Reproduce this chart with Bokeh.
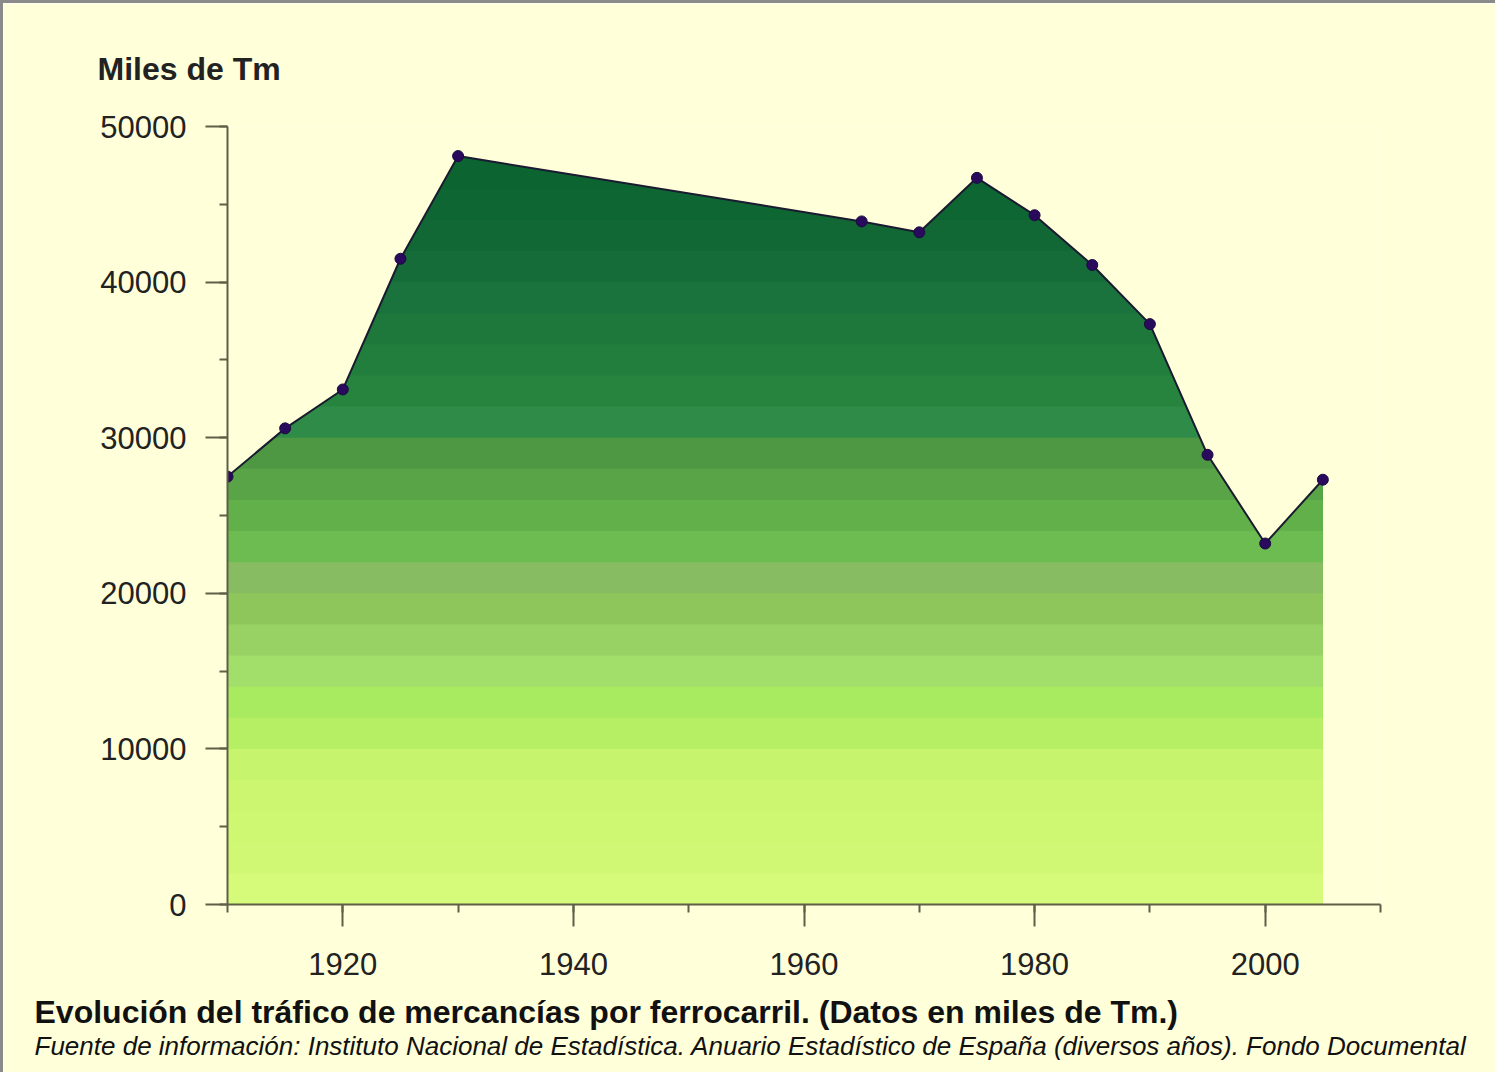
from bokeh.plotting import figure
from bokeh.models import Range1d, SingleIntervalTicker, Title
from bokeh.embed import file_html
from bokeh.resources import INLINE

# ---- data (thousands of tonnes) ----
years = [1910, 1915, 1920, 1925, 1930, 1965, 1970, 1975, 1980, 1985, 1990, 1995, 2000, 2005]
tonnes = [27500, 30600, 33100, 41500, 48100, 43900, 43200, 46700, 44300, 41100, 37300, 28900, 23200, 27300]

y_label = "Miles de Tm"
title_text = "Evolución del tráfico de mercancías por ferrocarril. (Datos en miles de Tm.)"
source_text = ("Fuente de información: Instituto Nacional de Estadística. Anuario Estadístico "
               "de España (diversos años). Fondo Documental")

# gradient bands (upper edge, colour) bottom -> top
band_hi = [2000, 4000, 6000, 8000, 10000, 12000, 14000, 16000, 18000, 20000, 22000, 24000,
           26000, 28000, 30000, 32000, 34000, 36000, 38000, 40000, 42000, 44000, 46000, 48000, 50000]
band_col = ["#D6FA7A", "#D0F874", "#CEF772", "#CCF670", "#C6F46C", "#B6EE64", "#A8EA60",
            "#A2DE6A", "#98D264", "#8EC65C", "#88BC62", "#6CBC52", "#62B04A", "#58A446",
            "#4E9843", "#2E8C48", "#26843F", "#227E3C", "#1E783C", "#1A723C", "#166C39",
            "#116835", "#0E6633", "#0C6431", "#0A6230"]

BG = "#FFFFD9"
AXIS = "#5F5F48"
FONT = "Liberation Sans"


def clip_below(poly, y0):
    """Sutherland-Hodgman clip of a polygon, keeping the part with y <= y0."""
    out = []
    m = len(poly)
    for i in range(m):
        (x1, y1), (x2, y2) = poly[i], poly[(i + 1) % m]
        in1, in2 = y1 <= y0, y2 <= y0
        if in1:
            out.append((x1, y1))
        if in1 != in2:
            t = (y0 - y1) / (y2 - y1)
            out.append((x1 + t * (x2 - x1), y0))
    return out


# area under the curve; each band layer covers area ∩ {y <= upper edge},
# painted top layer first so the lower layers overlap (no seams)
area = [(years[0], 0)] + list(zip(years, tonnes)) + [(years[-1], 0)]
xs_b, ys_b, col_b = [], [], []
for hi, c in sorted(zip(band_hi, band_col), reverse=True):
    poly = clip_below(area, hi)
    if len(poly) >= 3:
        xs_b.append([q[0] for q in poly])
        ys_b.append([q[1] for q in poly])
        col_b.append(c)

p = figure(width=1495, height=1072, output_backend="svg", toolbar_location=None,
           x_range=Range1d(1910, 2010), y_range=Range1d(0, 50000),
           min_border_left=224, min_border_right=118, min_border_top=123, min_border_bottom=171)
p.styles = {"border-left": "3px solid #8A8A8A", "border-top": "3px solid #8A8A8A"}
p.background_fill_color = BG
p.border_fill_color = BG
p.outline_line_color = None
p.grid.visible = False

p.patches(xs_b, ys_b, fill_color=col_b, line_color=None)
p.line(years, tonnes, line_color="#1A1A30", line_width=2)
p.scatter(years, tonnes, size=11, fill_color="#2A0A5C", line_color="#1A0A40", line_width=1)

# axes
for ax in (p.xaxis[0], p.yaxis[0]):
    ax.axis_line_color = AXIS
    ax.axis_line_width = 2
    ax.major_tick_line_color = AXIS
    ax.major_tick_line_width = 2
    ax.minor_tick_line_color = AXIS
    ax.minor_tick_line_width = 2
    ax.major_tick_in = 0
    ax.major_tick_out = 22
    ax.minor_tick_in = 0
    ax.minor_tick_out = 8
    ax.major_label_text_font = FONT
    ax.major_label_text_font_size = "31px"
    ax.major_label_text_color = "#222222"

p.xaxis.ticker = SingleIntervalTicker(interval=20, num_minor_ticks=2)
p.yaxis.ticker = SingleIntervalTicker(interval=10000, num_minor_ticks=2)
p.yaxis.major_label_standoff = 19
p.xaxis.major_label_standoff = 26
p.yaxis.formatter.use_scientific = False

p.add_layout(Title(text=y_label, align="left", offset=-130, standoff=80,
                   text_font=FONT, text_font_size="32px", text_font_style="bold",
                   text_color="#222222"), "above")
p.add_layout(Title(text=title_text, align="left", offset=-193, standoff=28,
                   text_font=FONT, text_font_size="32px", text_font_style="bold",
                   text_color="#111111"), "below")
p.add_layout(Title(text=source_text, align="left", offset=-193, standoff=-34,
                   text_font=FONT, text_font_size="26px", text_font_style="italic",
                   text_color="#111111"), "below")

open("out.html", "w").write(file_html(p, INLINE))
